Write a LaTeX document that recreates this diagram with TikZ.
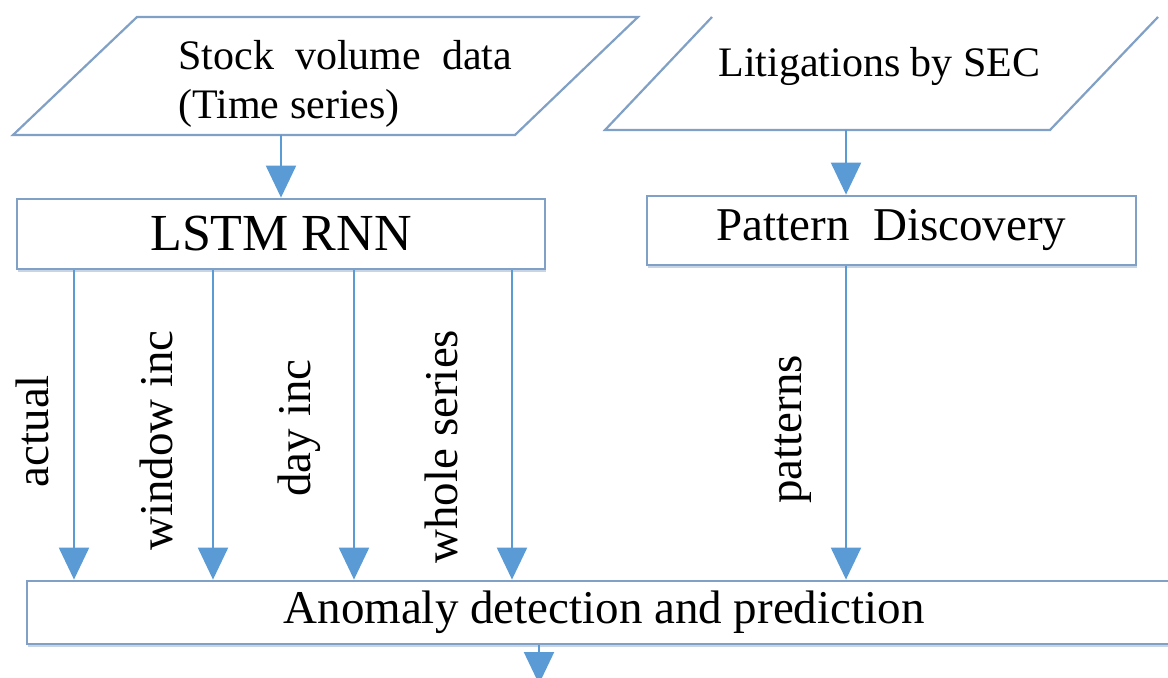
\documentclass[tikz,border=0pt]{standalone}
\usepackage{fontspec}
\setmainfont{Liberation Serif}
\usetikzlibrary{arrows.meta,shadows}
\definecolor{edgeblue}{RGB}{91,155,213}
\definecolor{frameblue}{RGB}{128,160,198}

\begin{document}
\begin{tikzpicture}[x=0.5pt, y=-0.5pt,
    >={Triangle[width=15pt, length=16pt]},
    box/.style={draw=frameblue, fill=white, line width=1.4pt, inner sep=0pt,
        drop shadow={shadow xshift=0.6pt, shadow yshift=-1.3pt, fill=frameblue!45, opacity=1}},
    flow/.style={->, draw=edgeblue, fill=edgeblue, line width=1.1pt},
    lbl/.style={font=\fontsize{23.5pt}{28pt}\selectfont, inner sep=0pt, anchor=base}]
    \useasboundingbox (0,0) rectangle (1168,678);

    % Inputs
    \draw[frameblue, line width=1.1pt] (137,17) -- (638,17) -- (515,135) -- (13,135) -- cycle;
    \draw[frameblue, line width=1.1pt] (712,17) -- (605,130) -- (1050,130) -- (1158,17);
    \node[anchor=west, align=left, inner sep=0pt, font=\fontsize{21pt}{24.5pt}\selectfont]
        (stock) at (178,84) {Stock~~volume~~data\\(Time series)};
    \node[anchor=base west, inner sep=0pt, font=\fontsize{21pt}{24.5pt}\selectfont]
        (lit) at (718,77) {Litigations by SEC};
    \coordinate (stock-out) at (281,135);
    \coordinate (lit-out) at (846,130);

    % Models
    \node[box, minimum width=264pt, minimum height=35pt, font=\fontsize{26pt}{30pt}\selectfont]
        (lstm) at (281,234) {LSTM RNN};
    \node[box, minimum width=244.5pt, minimum height=34.5pt, font=\fontsize{23.5pt}{28pt}\selectfont]
        (pattern) at (891.5,230.5) {Pattern~~Discovery};
    \node[box, minimum width=577pt, minimum height=31.5pt, font=\fontsize{23.5pt}{28pt}\selectfont]
        (anomaly) at (604,612.5) {Anomaly detection and prediction};
    \coordinate (result) at (539,684);

    % Edges
    \draw[flow] (stock-out) -- (lstm);
    \draw[flow] (lit-out) -- (lit-out |- pattern.north);
    \draw[flow] (lstm.south -| 74,0) -- (anomaly.north -| 74,0)
        node[lbl, pos=0.52, xshift=-13pt, rotate=90] (l-actual) {actual};
    \draw[flow] (lstm.south -| 213,0) -- (anomaly.north -| 213,0)
        node[lbl, pos=0.55, xshift=-20.5pt, rotate=90] (l-window) {window inc};
    \draw[flow] (lstm.south -| 354,0) -- (anomaly.north -| 354,0)
        node[lbl, pos=0.51, xshift=-22pt, rotate=90] (l-day) {day inc};
    \draw[flow] (lstm.south -| 512,0) -- (anomaly.north -| 512,0)
        node[lbl, pos=0.57, xshift=-27.5pt, rotate=90] (l-whole) {whole series};
    \draw[flow] (pattern.south -| lit-out) -- (anomaly.north -| lit-out)
        node[lbl, pos=0.52, xshift=-22.5pt, rotate=90] (l-patterns) {patterns};
    \draw[flow] (anomaly.south -| result) -- (result);
\end{tikzpicture}
\end{document}
